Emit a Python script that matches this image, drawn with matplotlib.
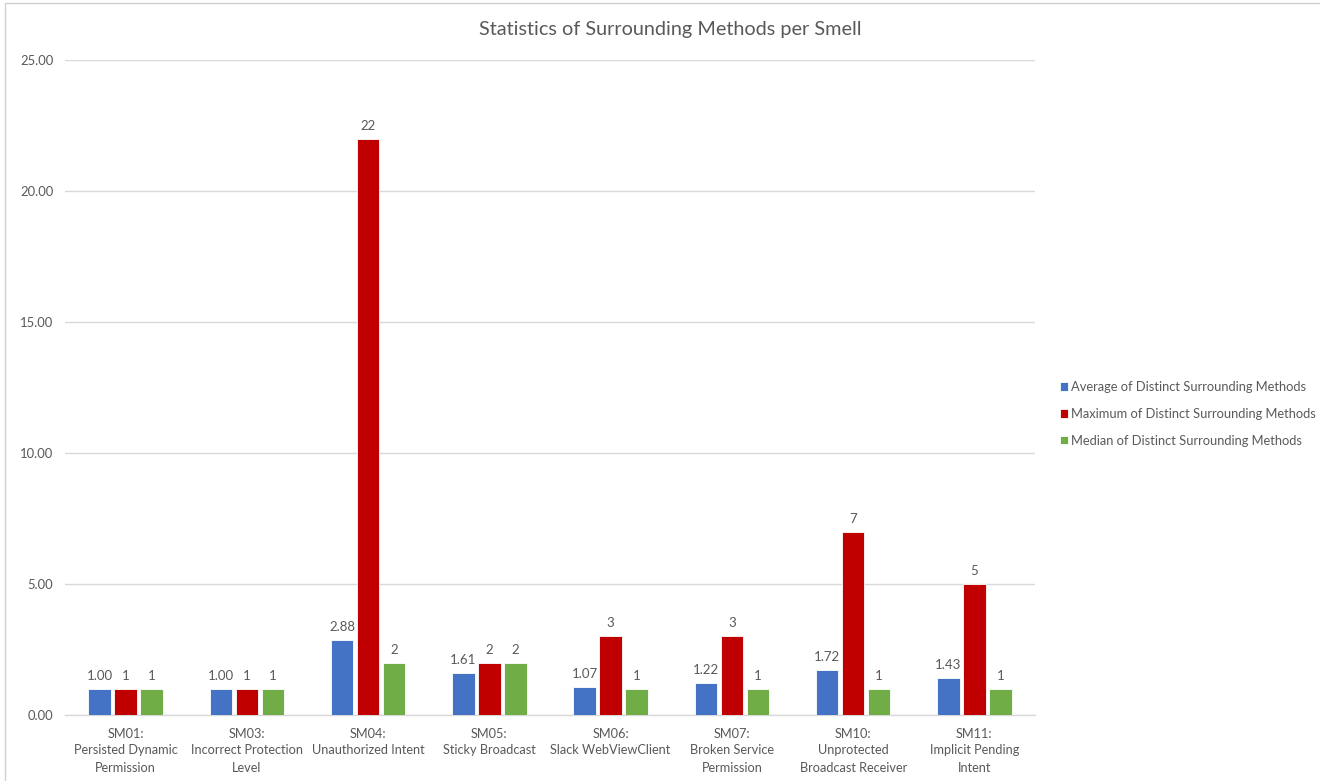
import matplotlib
matplotlib.use("Agg")
import matplotlib.pyplot as plt
from matplotlib.patches import Rectangle
import numpy as np

categories = [
    "SM01:\nPersisted Dynamic\nPermission",
    "SM03:\nIncorrect Protection\nLevel",
    "SM04:\nUnauthorized Intent",
    "SM05:\nSticky Broadcast",
    "SM06:\nSlack WebViewClient",
    "SM07:\nBroken Service\nPermission",
    "SM10:\nUnprotected\nBroadcast Receiver",
    "SM11:\nImplicit Pending\nIntent",
]
average_vals = [1.00, 1.00, 2.88, 1.61, 1.07, 1.22, 1.72, 1.43]
maximum_vals = [1, 1, 22, 2, 3, 3, 7, 5]
median_vals = [1, 1, 2, 2, 1, 1, 1, 1]
series_names = [
    "Average of Distinct Surrounding Methods",
    "Maximum of Distinct Surrounding Methods",
    "Median of Distinct Surrounding Methods",
]
colors = ["#4472C4", "#C00000", "#70AD47"]
text_color = "#595959"
grid_color = "#D9D9D9"

plt.rcParams["font.family"] = ["Lato", "DejaVu Sans"]

W, H = 1320, 781
fig = plt.figure(figsize=(W / 100, H / 100), dpi=100)
ax = fig.add_axes([65 / W, 1 - 715 / H, (1035 - 65) / W, (715 - 60) / H])

# Outer chart frame
fig.patches.append(Rectangle((5 / W, -0.01), 1.2, 1 - 3 / H + 0.01,
                             transform=fig.transFigure, fill=False,
                             edgecolor="#D0D0D0", linewidth=1.0))

x = np.arange(len(categories))
bw = 0.185
step = 0.215
series = [average_vals, maximum_vals, median_vals]
labels_fmt = ["{:.2f}", "{:d}", "{:d}"]
for i, (vals, col, name, fmt) in enumerate(zip(series, colors, series_names, labels_fmt)):
    pos = x + (i - 1) * step
    bars = ax.bar(pos, vals, width=bw, color=col, label=name,
                  edgecolor="white", linewidth=0.6, zorder=3)
    for b, v in zip(bars, vals):
        ax.annotate(fmt.format(v), (b.get_x() + b.get_width() / 2, v),
                    xytext=(0, 5), textcoords="offset points",
                    ha="center", va="bottom", fontsize=9.5, color=text_color)

ax.set_xlim(-0.5, len(categories) - 0.5)
ax.set_ylim(0, 25)
ax.set_yticks(np.arange(0, 25.1, 5))
ax.set_yticklabels([f"{v:.2f}" for v in np.arange(0, 25.1, 5)])
ax.set_xticks(x)
ax.set_xticklabels(categories, fontsize=9.2, color=text_color, linespacing=1.5)
ax.tick_params(axis="y", length=0, pad=8.5, labelsize=9.4, labelcolor=text_color)
ax.tick_params(axis="x", length=0, pad=9)
ax.yaxis.grid(True, color=grid_color, linewidth=1.0, zorder=0)
for s in ["top", "right", "left"]:
    ax.spines[s].set_visible(False)
ax.spines["bottom"].set_color(grid_color)
ax.spines["bottom"].set_linewidth(1.0)
ax.set_axisbelow(True)

fig.text(670 / W, 1 - 29 / H, "Statistics of Surrounding Methods per Smell",
         ha="center", va="center", fontsize=14.3, color=text_color)

leg = fig.legend(loc="center left", bbox_to_anchor=(1055 / W, 1 - 414 / H),
                 frameon=False, fontsize=9.3, handlelength=0.6, handleheight=0.6,
                 handletextpad=0.25, labelspacing=1.15, labelcolor=text_color,
                 borderaxespad=0.0)

fig.savefig("out.png", dpi=100, facecolor="white")
